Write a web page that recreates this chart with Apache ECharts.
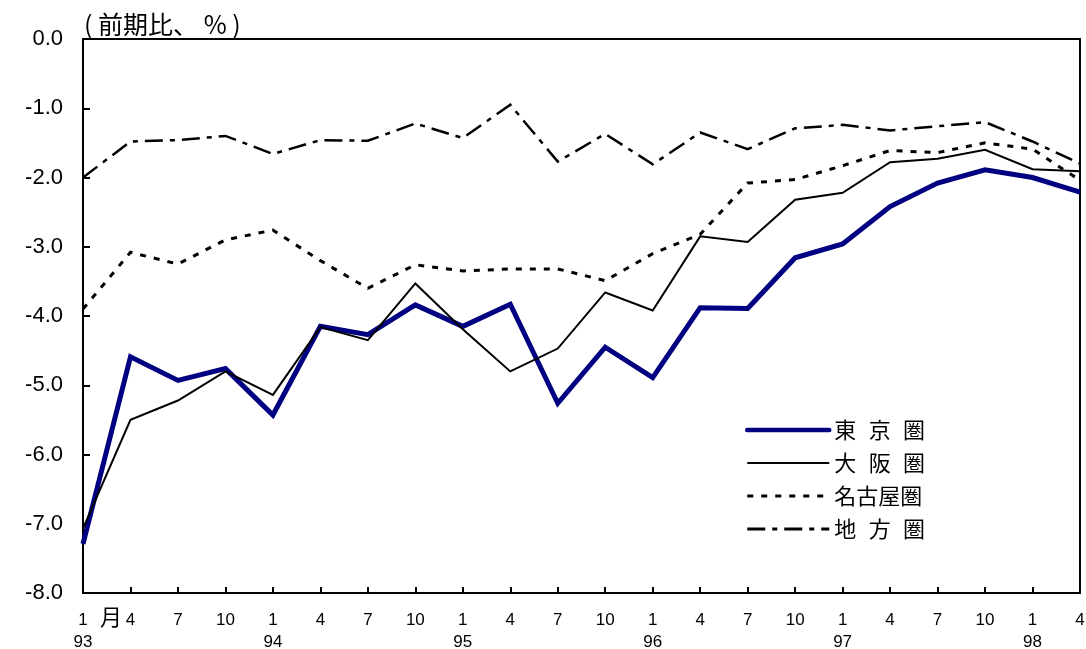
<!DOCTYPE html>
<html>
<head>
<meta charset="utf-8">
<script src="https://cdn.jsdelivr.net/npm/echarts@6/dist/echarts.min.js"></script>
<style>html,body{margin:0;padding:0;background:#fff;}#c{width:1086px;height:649px;}</style>
</head>
<body>
<div id="c"></div>
<script>
// quarterly months and years
const months = ['1','4','7','10','1','4','7','10','1','4','7','10','1','4','7','10','1','4','7','10','1','4'];
const years  = ['93','93','93','93','94','94','94','94','95','95','95','95','96','96','96','96','97','97','97','97','98','98'];
const categories = months.map((m, i) => years[i] + '/' + m);

const seriesNames = ['東 京 圏', '大 阪 圏', '名古屋圏', '地 方 圏'];
const tokyo  = [-7.29,-4.59,-4.93,-4.76,-5.43,-4.15,-4.27,-3.84,-4.15,-3.83,-5.26,-4.45,-4.89,-3.88,-3.89,-3.16,-2.96,-2.42,-2.08,-1.89,-2.00,-2.21];
const osaka  = [-7.07,-5.50,-5.22,-4.80,-5.14,-4.16,-4.35,-3.53,-4.19,-4.80,-4.47,-3.66,-3.92,-2.85,-2.93,-2.32,-2.22,-1.78,-1.73,-1.60,-1.88,-1.91];
const nagoya = [-3.90,-3.08,-3.25,-2.90,-2.76,-3.20,-3.60,-3.26,-3.35,-3.32,-3.32,-3.49,-3.10,-2.82,-2.08,-2.03,-1.83,-1.61,-1.64,-1.50,-1.59,-2.04];
const chiho  = [-2.00,-1.48,-1.46,-1.40,-1.66,-1.46,-1.47,-1.22,-1.43,-0.95,-1.77,-1.37,-1.81,-1.35,-1.59,-1.29,-1.24,-1.32,-1.26,-1.20,-1.48,-1.80];
const yTicks = { min: -8, max: 0, interval: 1 };

const chart = echarts.init(document.getElementById('c'), null, { renderer: 'canvas' });
const cjk = '"Noto Sans CJK JP", sans-serif';
const latin = 'Arial, "Liberation Sans", sans-serif';

const styles = [
  { color: '#000080', width: 5, type: 'solid', legendWidth: 4.5 },
  { color: '#000', width: 2, type: 'solid', legendWidth: 2 },
  { color: '#000', width: 3, type: [6, 8], legendWidth: 3 },
  { color: '#000', width: 2.5, type: [18, 7, 5, 7], legendWidth: 3 }
];
const seriesData = [tokyo, osaka, nagoya, chiho];

chart.setOption({
  animation: false,
  backgroundColor: '#fff',
  title: {
    text: '( 前期比、 % )',
    left: 79, top: 7,
    textStyle: { fontFamily: cjk, fontSize: 25, fontWeight: 'normal', color: '#000' }
  },
  grid: { left: 83, right: 6, top: 39, bottom: 56, containLabel: false, outerBoundsMode: 'none', show: true, borderColor: '#000', borderWidth: 2, backgroundColor: 'transparent' },
  legend: {
    orient: 'vertical',
    left: 740, top: 414,
    itemWidth: 82, itemHeight: 22, itemGap: 11,
    itemStyle: { color: 'rgba(0,0,0,0)', borderWidth: 0, opacity: 0 },
    textStyle: { fontFamily: cjk, fontSize: 22, color: '#000' },
    formatter: n => n.replace(/ /g, '\u2002\u200a'),
    data: seriesNames.map((n, i) => ({
      name: n,
      lineStyle: { color: styles[i].color, width: styles[i].legendWidth, type: styles[i].type, cap: i === 0 ? 'round' : 'butt' },
      itemStyle: { color: 'rgba(0,0,0,0)', borderWidth: 0, opacity: 0 }
    }))
  },
  xAxis: {
    type: 'category',
    data: categories,
    boundaryGap: false,
    axisLine: { onZero: false, lineStyle: { color: '#000', width: 2 } },
    axisTick: { inside: true, length: 6, interval: 0, lineStyle: { color: '#000', width: 2 } },
    axisLabel: {
      interval: 0, margin: 16, lineHeight: 22,
      fontFamily: latin, fontSize: 17, color: '#000',
      formatter: (v, i) => months[i] === '1' ? months[i] + '\n' + years[i] : months[i]
    },
    splitLine: { show: false }
  },
  yAxis: {
    type: 'value',
    min: yTicks.min, max: yTicks.max, interval: yTicks.interval,
    axisLine: { show: true, onZero: false, lineStyle: { color: '#000', width: 2 } },
    axisTick: { show: true, inside: true, length: 7, lineStyle: { color: '#000', width: 2 } },
    axisLabel: {
      margin: 20, fontFamily: latin, fontSize: 22, color: '#000',
      formatter: v => (v === 0 ? 0 : v).toFixed(1)
    },
    splitLine: { show: false }
  },
  graphic: [{
    type: 'text', left: 100, top: 606,
    style: { text: '月', fontFamily: cjk, fontSize: 22, fill: '#000' }
  }],
  series: seriesData.map((d, i) => ({
    name: seriesNames[i], type: 'line', data: d, symbol: 'none',
    lineStyle: { color: styles[i].color, width: styles[i].width, type: styles[i].type, join: 'miter' },
    itemStyle: { color: styles[i].color }
  }))
});
</script>
</body>
</html>
